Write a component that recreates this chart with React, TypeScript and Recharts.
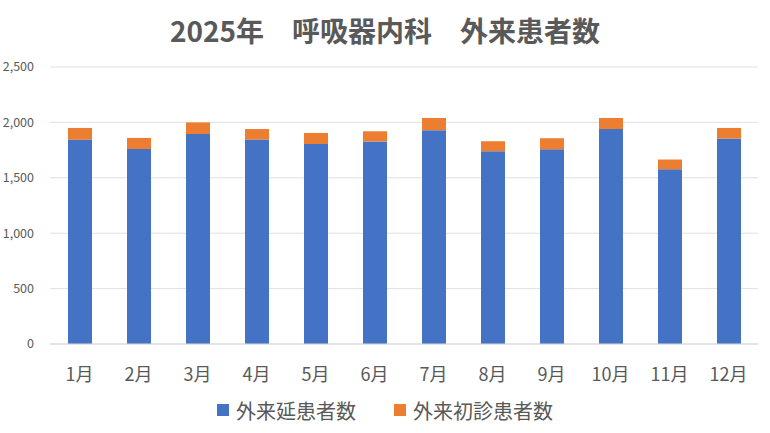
import React from 'react';
import { BarChart, Bar, XAxis, YAxis, CartesianGrid } from 'recharts';

const months = ['1月', '2月', '3月', '4月', '5月', '6月', '7月', '8月', '9月', '10月', '11月', '12月'];
const revisitPatients = [1845, 1760, 1895, 1845, 1805, 1828, 1930, 1740, 1757, 1940, 1577, 1855];
const newPatients = [105, 100, 105, 95, 100, 92, 110, 90, 100, 100, 88, 95];
const yTicks = [0, 500, 1000, 1500, 2000, 2500];

const data = months.map((m, i) => ({ month: m, revisit: revisitPatients[i], first: newPatients[i] }));

const FONT = '"Noto Sans CJK JP", "Noto Sans", sans-serif';
const TEXT = '#595959';

export default function App() {
  return (
    <div style={{ position: 'absolute', left: 0, top: 0, width: 770, height: 433, background: '#fff' }}>
      <div style={{ position: 'absolute', left: 0, top: 10, width: 770, textAlign: 'center', fontFamily: FONT, fontSize: 28, fontWeight: 600, color: TEXT, lineHeight: '40px' }}>
        2025年　呼吸器内科　外来患者数
      </div>
      <BarChart width={770} height={433} data={data} margin={{ top: 67, right: 12, bottom: 59, left: 0 }}>
        <CartesianGrid vertical={false} stroke="#e0e0e0" />
        <XAxis
          dataKey="month"
          height={30}
          axisLine={{ stroke: '#d9d9d9' }}
          tickLine={false}
          tick={{ fill: TEXT, fontSize: 18, fontFamily: FONT }}
          tickMargin={18}
          interval={0}
        />
        <YAxis
          width={50}
          domain={[0, 2500]}
          ticks={yTicks}
          axisLine={false}
          tickLine={false}
          tick={{ fill: TEXT, fontSize: 12.5, fontFamily: FONT }}
          tickFormatter={(v: number) => v.toLocaleString('en-US')}
          tickMargin={10}
        />
        <Bar dataKey="revisit" name="外来延患者数" stackId="a" fill="#4472C4" barSize={24} isAnimationActive={false} />
        <Bar dataKey="first" name="外来初診患者数" stackId="a" fill="#ED7D31" barSize={24} isAnimationActive={false} />
      </BarChart>
      <div style={{ position: 'absolute', left: 0, top: 395, width: 770, height: 30, display: 'flex', justifyContent: 'center', alignItems: 'center', fontFamily: FONT, color: TEXT, fontSize: 20 }}>
        <div style={{ display: 'flex', alignItems: 'center', marginRight: 38 }}>
          <span style={{ width: 12, height: 12, background: '#4472C4', display: 'inline-block', marginRight: 7 }} />
          <span>外来延患者数</span>
        </div>
        <div style={{ display: 'flex', alignItems: 'center' }}>
          <span style={{ width: 12, height: 12, background: '#ED7D31', display: 'inline-block', marginRight: 7 }} />
          <span>外来初診患者数</span>
        </div>
      </div>
    </div>
  );
}
